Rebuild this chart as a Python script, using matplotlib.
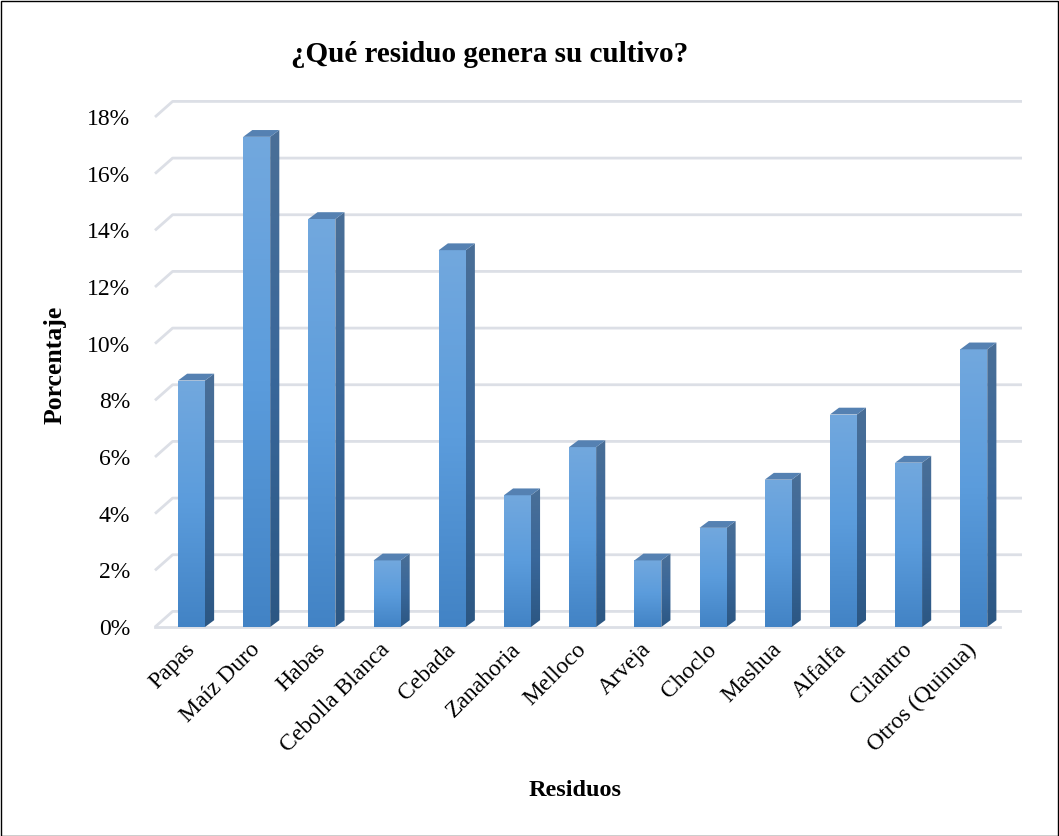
"""Recreate the 3D-style column chart: which residue does each crop produce."""

import matplotlib

matplotlib.use("Agg")
import matplotlib.pyplot as plt
import numpy as np
from matplotlib.colors import LinearSegmentedColormap
from matplotlib.patches import Polygon, Rectangle

plt.rcParams["font.family"] = ["Liberation Serif", "DejaVu Serif"]

categories = ["Papas", "Maíz Duro", "Habas", "Cebolla Blanca", "Cebada",
              "Zanahoria", "Melloco", "Arveja", "Choclo", "Mashua",
              "Alfalfa", "Cilantro", "Otros (Quinua)"]
percent = [8.7, 17.3, 14.4, 2.35, 13.3, 4.65, 6.35, 2.35, 3.5, 5.2, 7.5, 5.8, 9.8]
yticks = [0, 2, 4, 6, 8, 10, 12, 14, 16, 18]

W, H = 1059, 836
BAR_W = 0.414        # front face width (category units)
DX, DY = 0.14, 0.24  # bar depth offset (x units, % units)
WALL_DX, WALL_DY = 0.27, 0.55  # back wall offset
X0, X1 = -0.56, 12.74

fig = plt.figure(figsize=(W / 100, H / 100), dpi=100)
ax = fig.add_axes([155 / W, 1 - 627 / H, 867 / W, 527 / H])
ax.set_xlim(X0, X1)
ax.set_ylim(0, 18.6)
for s in ax.spines.values():
    s.set_visible(False)

grid_c = "#DCDFE6"
for v in yticks:
    ax.plot([X0, X0 + WALL_DX, X1], [v, v + WALL_DY, v + WALL_DY],
            color=grid_c, lw=2, zorder=1, clip_on=False, solid_capstyle="butt")
ax.plot([X0, 12.41], [0, 0], color=grid_c, lw=2, zorder=1, clip_on=False)

front_cmap = LinearSegmentedColormap.from_list("front", ["#4283C5", "#5B9CDC", "#72A8DE"])
side_cmap = LinearSegmentedColormap.from_list("side", ["#2C5783", "#39679A", "#4A6F97"])
grad = np.linspace(0, 1, 256).reshape(-1, 1)

for i, v in enumerate(percent):
    left, right = i - BAR_W / 2, i + BAR_W / 2
    front = Rectangle((left, 0), BAR_W, v, facecolor="none", edgecolor="none", zorder=3)
    ax.add_patch(front)
    im = ax.imshow(grad, cmap=front_cmap, origin="lower", aspect="auto",
                   extent=[left, right, 0, v], zorder=3)
    im.set_clip_path(front)
    side = Polygon([(right, 0), (right + DX, DY), (right + DX, v + DY), (right, v)],
                   closed=True, facecolor="none", edgecolor="none", zorder=3)
    ax.add_patch(side)
    ims = ax.imshow(grad, cmap=side_cmap, origin="lower", aspect="auto",
                    extent=[right, right + DX, 0, v + DY], zorder=3)
    ims.set_clip_path(side)
    ax.add_patch(Polygon([(left, v), (right, v), (right + DX, v + DY), (left + DX, v + DY)],
                         closed=True, facecolor="#5581B2", edgecolor="none", zorder=4))

ax.set_xlim(X0, X1)
ax.set_ylim(0, 18.6)
ax.set_yticks(yticks)
ax.set_yticklabels([f"{v}%" for v in yticks], fontsize=17)
ax.set_xticks(range(len(categories)))
ax.set_xticklabels(categories, fontsize=17, rotation=45, ha="right",
                   va="center", rotation_mode="anchor")
ax.tick_params(axis="both", length=0)
ax.tick_params(axis="y", pad=18)
ax.tick_params(axis="x", pad=14)

fig.text(490 / W, 1 - 55 / H, "¿Qué residuo genera su cultivo?", fontsize=21,
         fontweight="bold", ha="center", va="center")
fig.text(55 / W, 1 - 365 / H, "Porcentaje", fontsize=18.5, fontweight="bold",
         rotation=90, ha="center", va="center")
fig.text(575 / W, 1 - 790 / H, "Residuos", fontsize=17.5, fontweight="bold",
         ha="center", va="center")

fig.patches.append(Rectangle((0.5 / W, 0.5 / H), 1 - 1.5 / W, 1 - 1.5 / H,
                             transform=fig.transFigure, fill=False,
                             edgecolor="black", lw=1))

fig.savefig("out.png", dpi=100)
